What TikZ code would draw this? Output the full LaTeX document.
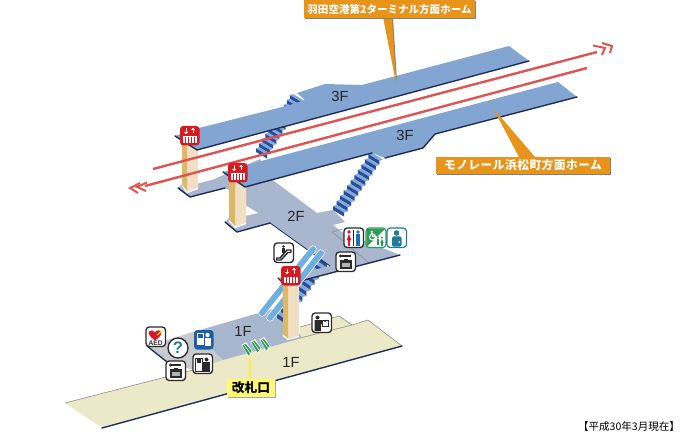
\documentclass[tikz,border=0pt]{standalone}
\usepackage{fontspec}
\setmainfont{Liberation Sans}
\newfontfamily\jp{Noto Sans CJK JP}
\usetikzlibrary{calc}
\definecolor{pfblue}{HTML}{83A5D1}
\definecolor{flblue}{HTML}{A9B7CE}
\definecolor{flgrey}{HTML}{C8CACD}
\definecolor{beige}{HTML}{ECE9C8}
\definecolor{edge}{HTML}{1F2D5A}
\definecolor{stdark}{HTML}{234F9E}
\definecolor{stlight}{HTML}{86A9D8}
\definecolor{esc}{HTML}{6FB0DE}
\definecolor{railred}{HTML}{DF5352}
\definecolor{callor}{HTML}{E8931A}
\definecolor{pilA}{HTML}{DDB866}
\definecolor{pilB}{HTML}{F0DFC2}
\definecolor{evred}{HTML}{D9191F}
\definecolor{icgreen}{HTML}{2E9B57}
\definecolor{icteal}{HTML}{1F7B99}
\definecolor{icblue}{HTML}{1B5FA8}
\definecolor{icdark}{HTML}{2B2B2B}
\definecolor{wcblue}{HTML}{1E6FB8}
\definecolor{wcred}{HTML}{D7182A}
\tikzset{
  floorlabel/.style={font=\fontsize{11pt}{11pt}\selectfont,text=black!85},
  darkedge/.style={draw=edge,line width=1.05pt,line cap=round,line join=round},
  thinedge/.style={draw=black!45,line width=.45pt},
  railline/.style={draw=railred,line width=1.8pt},
  chev/.style={draw=railred,line width=1.5pt,line join=miter},
  frameicon/.style={draw=icdark,fill=white,line width=1pt,rounded corners=2.4pt},
  callout/.style={fill=callor,text=white,inner sep=0pt,font=\jp\bfseries\fontsize{7.9pt}{7.9pt}\selectfont},
  escband/.style={draw=esc,line width=4.4pt,line cap=round},
  escback/.style={draw=white,line width=5.4pt,line cap=round},
}
% stair: start x y, end x y, width vector, steps; each step = light tread + dark riser
\newcommand\stairrun[7]{%
  \pgfmathsetmacro\dxs{(#3-#1)/#7}\pgfmathsetmacro\dys{(#4-#2)/#7}%
  \foreach \i in {1,...,#7}{%
    \pgfmathsetmacro\px{#1+(\i-1)*\dxs}\pgfmathsetmacro\py{#2+(\i-1)*\dys}%
    \fill[stlight] (\px,\py) -- ++(#5,#6) -- ++(\dxs,0.25*\dys) -- ++(-#5,-#6) -- cycle;
    \fill[stdark] (\px+\dxs,\py+0.25*\dys) -- ++(#5,#6) -- ++(0,0.75*\dys) -- ++(-#5,-#6) -- cycle;
  }%
}
\newcommand\iconev[2]{\begin{scope}[shift={(#1,#2)}]
  \fill[evred,rounded corners=2.4pt] (0,0) rectangle (19.5,19.5);
  \draw[white,line width=.6pt] (6,2.5) -- (6,7);
  \fill[white] (3.8,6) -- (8.2,6) -- (6,8.2) -- cycle;
  \draw[white,line width=.6pt] (13,3.5) -- (13,7.5);
  \fill[white] (10.8,4) -- (15.2,4) -- (13,1.8) -- cycle;
  \fill[white] (3,9.5) rectangle (16.5,17);
  \foreach \q in {5.5,8.5,11.5,14.5}{\fill[evred] (\q-.6,11) rectangle (\q+.6,17);}
  \fill[evred] (3,9.5) rectangle (16.5,10.2);
\end{scope}}
\newcommand\iconlocker[2]{\begin{scope}[shift={(#1,#2)}]
  \draw[frameicon] (0,0) rectangle (19.5,19.5);
  \fill[icdark] (4.5,4) circle (1.7);
  \fill[icdark] (5,3.3) rectangle (15,5);
  \fill[icdark] (4,8) rectangle (15.5,16.5);
  \fill[white!70!black] (5.5,10.5) rectangle (14,15);
  \fill[icdark] (8,7) rectangle (11.5,9.5);
\end{scope}}
\begin{document}
\begin{tikzpicture}[x=0.75pt,y=-0.75pt]
\useasboundingbox (0,0) rectangle (680,434);
\fill[white] (0,0) rectangle (680,434);

% 1F beige floor
\fill[beige] (65,403) -- (193,370) -- (223,360) -- (300,338) -- (300,327) -- (339,316) -- (352,325) -- (368,320) -- (402,346) -- (102,428) -- cycle;
\draw[thinedge] (65,403) -- (193,370);
\draw[thinedge] (300,327) -- (339,316) -- (352,325) -- (368,320) -- (402,346);
\draw[thinedge] (300,338) -- (352,325);
\draw[darkedge] (102,428) -- (402,346);
% 1F paid area
\fill[flblue] (193,332) -- (283,306) -- (302,338) -- (223,360) -- cycle;
\fill[flgrey] (147,346) -- (193,332) -- (223,360) -- (193,370) -- (167,362) -- cycle;
\draw[darkedge] (147,346) -- (167,362);

% stairs 2F-1F
\stairrun{322}{256}{277}{318}{9}{6}{11}

% 2F floor
\fill[flblue] (198,183) -- (212,180) -- (260,159) -- (270,178) -- (317,213) -- (333,210) -- (345,222) -- (333,225) -- (342,232) -- (400,255) -- (285,285) -- (278,278) -- (300,273) -- (330,266) -- (270,223) -- (237,232) -- (225,222) -- (229,218) -- (229,190) -- (225,188) -- (190,197) -- (178,188) -- (182,184) -- cycle;
\fill[white] (245,205) -- (258,213) -- (245,216) -- cycle;
\fill[white] (198,173) -- (211,179.5) -- (198,183.5) -- cycle;
\draw[darkedge] (178,188) -- (190,197) -- (225,188);
\draw[darkedge] (225,222) -- (237,232) -- (270,223);
\draw[darkedge] (278,278) -- (285,285) -- (400,255);
\draw[darkedge,line width=.6pt] (270,223) -- (330,266);
\draw[thinedge] (332,232) -- (368,262);
\draw[thinedge] (332,232) -- (343,229);

% stairs 3F-2F (left) and 3F-2F (right)
\stairrun{293}{94}{256}{152}{11}{6.5}{12}
\stairrun{372}{153}{333}{210}{11}{6.5}{11}

% escalators
\foreach \a/\b/\c/\d in {262/313/313/249,270/318/321/253}{
  \draw[escback] (\a,\b) -- (\c,\d);
  \draw[escband] (\a,\b) -- (\c,\d);
}

% pillars 1 and 2
\fill[pilB] (187,140) -- (198,140) -- (198,188) -- (187,192) -- cycle;
\fill[pilA] (182,140) -- (187,140) -- (187,192) -- (182,185) -- cycle;
\draw[white,line width=.9pt] (182,185.5) -- (187,192.5) -- (198,188.5);
\fill[pilB] (235,170) -- (246,170) -- (246,223) -- (235,227) -- cycle;
\fill[pilA] (229,170) -- (235,170) -- (235,227) -- (229,220) -- cycle;
\draw[white,line width=.9pt] (229,220.5) -- (235,227.5) -- (246,223.5);

% 3F platforms
\fill[pfblue] (175,136) -- (199,128) -- (290,105) -- (305,100) -- (297,93) -- (325,84) -- (362,85) -- (509,46) -- (529,61) -- (197,150) -- cycle;
\draw[darkedge] (175,136) -- (197,150) -- (529,61);
\fill[pfblue] (223,172) -- (235,168) -- (558,82) -- (577,97) -- (435,134) -- (423,148) -- (385,158) -- (372,153) -- (245,187) -- cycle;
\draw[darkedge] (223,172) -- (245,187) -- (372,153);
\draw[darkedge] (385,158) -- (423,148) -- (435,134) -- (577,97);

% pillar 3
\fill[pilB] (288,282) -- (299,282) -- (299,336) -- (288,339) -- cycle;
\fill[pilA] (283,282) -- (288,282) -- (288,339) -- (283,335) -- cycle;
\draw[white,line width=.9pt] (283,335.5) -- (288,339.5) -- (299,336.5);

% rails
\coordinate (railAw) at (153,169);
\coordinate (railAe) at (597,52);
\coordinate (railBw) at (145,186);
\coordinate (railBe) at (587,68);
\draw[railline] (railAw) -- (railAe);
\draw[railline] (railBw) -- (railBe);
\draw[chev] (593,45.5) -- (605,48) -- (602,55);
\draw[chev] (602,43) -- (612,46) -- (610,53);
\draw[chev] (140,183) -- (130,188) -- (138,193);
\draw[chev] (147,182.5) -- (137,187) -- (146,191);

% icons: elevators
\iconev{180}{126}
\iconev{228}{163}
\iconev{281}{266}

% escalator icon
\begin{scope}[shift={(274,243)}]
  \draw[frameicon] (0,0) rectangle (19.5,19.5);
  \draw[icdark,line width=1.1pt,line join=round,fill=white] (2.5,15) -- (6,15) -- (13,7) -- (17,7) -- (17,9.5) -- (14,9.5) -- (7,17) -- (2.5,17) -- cycle;
  \fill[icdark] (9.5,3.5) circle (1.4);
  \fill[icdark] (8.3,5.3) rectangle (10.7,10);
\end{scope}
\iconlocker{336}{252}
% restroom
\begin{scope}[shift={(344,228)}]
  \draw[frameicon] (0,0) rectangle (19.5,19.5);
  \fill[wcred] (5,4) circle (1.8);
  \fill[wcred] (5,5.8) -- (7.4,12.5) -- (2.6,12.5) -- cycle;
  \fill[wcred] (3.8,12) rectangle (4.7,17.5);
  \fill[wcred] (5.4,12) rectangle (6.3,17.5);
  \fill[wcblue] (14,4) circle (1.8);
  \fill[wcblue] (11.8,6) rectangle (16.2,12);
  \fill[wcblue] (12.4,12) rectangle (13.8,17.5);
  \fill[wcblue] (14.2,12) rectangle (15.6,17.5);
  \draw[icdark,line width=.4pt] (9.5,2) -- (9.5,18);
\end{scope}
% accessible
\begin{scope}[shift={(366,228)}]
  \draw[draw=icgreen,fill=white,line width=.85pt,rounded corners=2.4pt] (0,0) rectangle (20,19.5);
  \fill[icgreen,rounded corners=1.5pt] (.6,.6) -- (19.4,.6) -- (.6,18.9) -- cycle;
  \draw[white,line width=.8pt] (6.5,9) circle (3);
  \fill[white] (5.8,3.8) circle (1.2);
  \draw[white,line width=.8pt] (5.8,5) -- (6.6,8.5) -- (10,8.5) -- (11,11);
  \fill[icgreen] (12,9.5) circle (1.2);
  \fill[icgreen] (10.7,11) rectangle (13.3,17);
  \fill[icgreen] (16,9.5) circle (1.2);
  \fill[icgreen] (16,10.8) -- (17.8,15) -- (14.2,15) -- cycle;
  \fill[icgreen] (15.4,15) rectangle (16.6,18);
\end{scope}
% teal person
\begin{scope}[shift={(387,228)}]
  \draw[draw=icteal,fill=white,line width=.85pt,rounded corners=2.4pt] (0,0) rectangle (19.5,19.5);
  \fill[icteal] (9.5,5) circle (2.8);
  \fill[icteal,rounded corners=1pt] (5,8.5) rectangle (14.5,18.5);
  \fill[white] (12.2,14) circle (.9);
\end{scope}
% info counter person
\begin{scope}[shift={(312,313)}]
  \draw[frameicon] (0,0) rectangle (19.5,19.5);
  \fill[icdark] (5.5,4.5) circle (2);
  \fill[icdark] (2.5,7) -- (10.5,7) -- (10.5,11) -- (9,11) -- (9,18) -- (2.5,18) -- cycle;
  \draw[icdark,line width=.6pt] (10,7) rectangle (16.5,13);
  \draw[icdark,line width=.6pt] (11.5,7) arc (180:0:1.7);
\end{scope}
% AED
\begin{scope}[shift={(146,327)}]
  \draw[frameicon] (0,0) rectangle (19.5,19.5);
  \fill[wcred] (9,13.5) .. controls (3,9) and (2,6.5) .. (3,4.5) .. controls (4.5,2.5) and (7.5,3) .. (9,5.5) .. controls (10.5,3) and (14,2.5) .. (15,5) .. controls (16,7.5) and (14,10) .. (9,13.5) -- cycle;
  \draw[yellow!85!orange,line width=.9pt] (11,8) -- (16.5,3.5);
  \node (aedtext) at (9.7,16.2) {\fontsize{5pt}{5pt}\selectfont\bfseries\textcolor{icdark}{AED}};
\end{scope}
% question
\node[circle,draw=icdark,fill=white,line width=1pt,minimum size=15pt,inner sep=0pt,text=icteal,font=\fontsize{12.5pt}{12.5pt}\selectfont\bfseries] (qmark) at (178,348) {?};
% blue info
\begin{scope}[shift={(194,330)}]
  \fill[icblue,rounded corners=2.4pt] (0,0) rectangle (19.5,19.5);
  \fill[white] (3,3) rectangle (10,15);
  \fill[icblue] (4.3,4.3) rectangle (8.7,8);
  \fill[white] (13.5,5) circle (2.2);
  \fill[white] (10.5,8) rectangle (16.5,16);
\end{scope}
% fare adjustment
\begin{scope}[shift={(193,354)}]
  \draw[frameicon] (0,0) rectangle (19.5,19.5);
  \draw[icdark,line width=.7pt] (2.5,4) rectangle (9,17);
  \fill[icdark] (3.6,5.2) rectangle (7.9,9);
  \fill[icdark] (13.5,5.5) circle (2);
  \fill[icdark] (10.2,8.2) rectangle (16.5,17.5);
\end{scope}
\iconlocker{166}{361}

% gates
\coordinate (gatepoint) at (250,357);
\foreach \gx/\gy in {247/350,256/347,265/345}{
  \fill[white] (\gx-5.5,\gy-5) -- (\gx-1,\gy-8) -- (\gx+5.5,\gy+1.5) -- (\gx+2,\gy+7) -- cycle;
  \fill[icgreen] (\gx-4.5,\gy-4.5) -- (\gx-1.5,\gy-6.5) -- (\gx+4.5,\gy+1) -- (\gx+1.5,\gy+5.5) -- cycle;
  \draw[white,line width=.45pt] (\gx-3,\gy-5.5) -- (\gx+3,\gy+3);
}

% labels
\node[floorlabel] (lf3a) at (340,96.5) {3F};
\node[floorlabel] (lf3b) at (405,135) {3F};
\node[floorlabel] (lf2) at (296,216) {2F};
\node[floorlabel] (lf1a) at (243,331) {1F};
\node[floorlabel] (lf1b) at (291,362) {1F};

% callouts
\coordinate (tipA) at (396,83);
\coordinate (tipB) at (493,108);
\fill[black!50] (384,17) -- (393,17) -- (397,82) -- cycle;
\fill[callor] (383,17) -- (392,17) -- (tipA) -- cycle;
\fill[callor] (519,157) -- (535,157) -- (tipB) -- cycle;
\fill[black!50] (305,1) rectangle (476,19);
\node[callout,minimum width=128.25pt,minimum height=13.5pt] (topcall) at (389.5,9.5) {羽田空港第2ターミナル方面ホーム};
\fill[black!50] (437,158) rectangle (611,175.5);
\node[callout,minimum width=130.5pt,minimum height=13pt,font=\jp\bfseries\fontsize{8.8pt}{8.8pt}\selectfont\addfontfeature{LetterSpace=4}] (botcall) at (523,165.5) {モノレール浜松町方面ホーム};

% gate callout
\node[fill=black!35,minimum width=36pt,minimum height=13.5pt,inner sep=0pt] (gateshadow) at (252,389) {};
\draw[yellow!70!beige,line width=1pt] (gatepoint) -- (250,380);
\node[fill=yellow!55!white,minimum width=36pt,minimum height=13.5pt,inner sep=0pt,font=\jp\bfseries\fontsize{9.6pt}{9.6pt}\selectfont] (gatelabel) at (251,388) {改札口};

\node[font=\jp\fontsize{7.9pt}{7.9pt}\selectfont,text=black,inner sep=0pt] (datelabel) at (629,426) {【平成30年3月現在】};
\end{tikzpicture}
\end{document}
